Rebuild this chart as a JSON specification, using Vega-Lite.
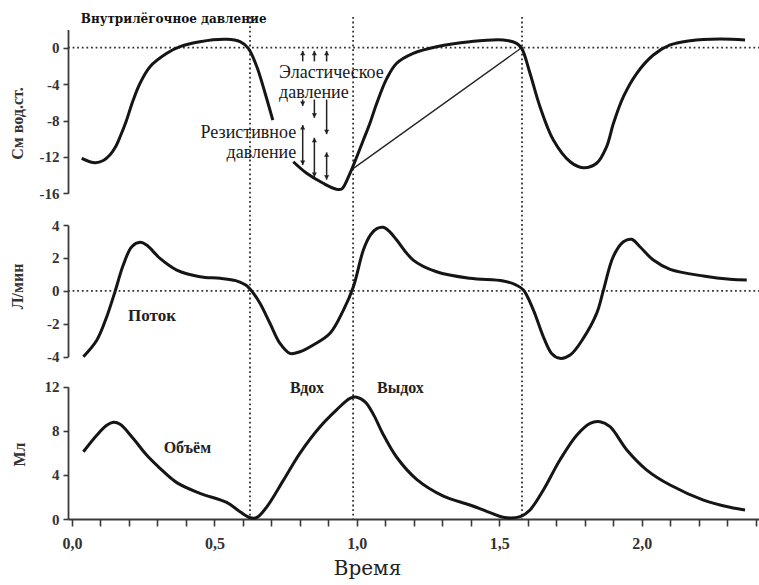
{
  "$schema": "https://vega.github.io/schema/vega-lite/v6.json",
  "width": 691,
  "height": 502,
  "autosize": {"type": "none"},
  "padding": {"left": 68, "top": 17, "right": 0, "bottom": 66},
  "background": "white",
  "config": {
    "view": {"stroke": null},
    "axis": {
      "grid": false,
      "domainColor": "#3a3a3a",
      "domainWidth": 1.8,
      "tickColor": "#3a3a3a",
      "tickWidth": 1.6,
      "tickSize": 5,
      "labelPadding": 4,
      "labelFont": "Liberation Serif",
      "labelFontSize": 15,
      "labelFontWeight": "bold",
      "labelColor": "#333333",
      "titleFont": "Liberation Serif",
      "titleFontSize": 16,
      "titleFontWeight": "bold",
      "titleColor": "#333333"
    }
  },
  "datasets": {
    "pressure": [
      {"seg": "a", "t": 0.034, "v": -12.15},
      {"seg": "a", "t": 0.081, "v": -12.64},
      {"seg": "a", "t": 0.11, "v": -12.4},
      {"seg": "a", "t": 0.133, "v": -11.8},
      {"seg": "a", "t": 0.152, "v": -10.95},
      {"seg": "a", "t": 0.17, "v": -9.7},
      {"seg": "a", "t": 0.19, "v": -8.1},
      {"seg": "a", "t": 0.215, "v": -5.75},
      {"seg": "a", "t": 0.239, "v": -3.91},
      {"seg": "a", "t": 0.274, "v": -2.09},
      {"seg": "a", "t": 0.333, "v": -0.62},
      {"seg": "a", "t": 0.379, "v": 0.11},
      {"seg": "a", "t": 0.449, "v": 0.66},
      {"seg": "a", "t": 0.543, "v": 0.92},
      {"seg": "a", "t": 0.59, "v": 0.66},
      {"seg": "a", "t": 0.619, "v": -0.07},
      {"seg": "a", "t": 0.649, "v": -2.09},
      {"seg": "a", "t": 0.678, "v": -5.0},
      {"seg": "a", "t": 0.705, "v": -7.95},
      {"seg": "b", "t": 0.777, "v": -12.53},
      {"seg": "b", "t": 0.824, "v": -13.8},
      {"seg": "b", "t": 0.882, "v": -14.9},
      {"seg": "b", "t": 0.929, "v": -15.56},
      {"seg": "b", "t": 0.947, "v": -15.53},
      {"seg": "b", "t": 0.976, "v": -13.8},
      {"seg": "b", "t": 1.023, "v": -10.14},
      {"seg": "b", "t": 1.046, "v": -8.3},
      {"seg": "b", "t": 1.07, "v": -6.1},
      {"seg": "b", "t": 1.105, "v": -3.4},
      {"seg": "b", "t": 1.14, "v": -1.71},
      {"seg": "b", "t": 1.198, "v": -0.62},
      {"seg": "b", "t": 1.28, "v": 0.11},
      {"seg": "b", "t": 1.397, "v": 0.66},
      {"seg": "b", "t": 1.514, "v": 0.85},
      {"seg": "b", "t": 1.561, "v": 0.48},
      {"seg": "b", "t": 1.579, "v": -0.07},
      {"seg": "b", "t": 1.608, "v": -2.81},
      {"seg": "b", "t": 1.643, "v": -6.48},
      {"seg": "b", "t": 1.69, "v": -10.14},
      {"seg": "b", "t": 1.749, "v": -12.53},
      {"seg": "b", "t": 1.795, "v": -13.19},
      {"seg": "b", "t": 1.842, "v": -12.7},
      {"seg": "b", "t": 1.877, "v": -10.88},
      {"seg": "b", "t": 1.901, "v": -8.31},
      {"seg": "b", "t": 1.936, "v": -5.38},
      {"seg": "b", "t": 1.983, "v": -2.81},
      {"seg": "b", "t": 2.041, "v": -0.8},
      {"seg": "b", "t": 2.1, "v": 0.3},
      {"seg": "b", "t": 2.17, "v": 0.77},
      {"seg": "b", "t": 2.275, "v": 0.96},
      {"seg": "b", "t": 2.363, "v": 0.85}
    ],
    "elasticLine": [
      {"t": 0.982, "v": -13.4},
      {"t": 1.579, "v": 0}
    ],
    "shafts": [
      {"t": 0.81, "v": -1.5, "v2": -0.35},
      {"t": 0.851, "v": -1.5, "v2": -0.35},
      {"t": 0.894, "v": -1.5, "v2": -0.35},
      {"t": 0.81, "v": -5.7, "v2": -6.4},
      {"t": 0.851, "v": -5.7, "v2": -7.7},
      {"t": 0.894, "v": -5.7, "v2": -9.5},
      {"t": 0.81, "v": -8.5, "v2": -12.9},
      {"t": 0.851, "v": -9.9, "v2": -14.2},
      {"t": 0.894, "v": -11.5, "v2": -14.5}
    ],
    "heads": [
      {"t": 0.81, "v": -0.6, "dir": "up"},
      {"t": 0.851, "v": -0.6, "dir": "up"},
      {"t": 0.894, "v": -0.6, "dir": "up"},
      {"t": 0.81, "v": -6.15, "dir": "down"},
      {"t": 0.851, "v": -7.45, "dir": "down"},
      {"t": 0.894, "v": -9.25, "dir": "down"},
      {"t": 0.81, "v": -8.75, "dir": "up"},
      {"t": 0.81, "v": -12.65, "dir": "down"},
      {"t": 0.851, "v": -10.15, "dir": "up"},
      {"t": 0.851, "v": -13.95, "dir": "down"},
      {"t": 0.894, "v": -11.75, "dir": "up"},
      {"t": 0.894, "v": -14.25, "dir": "down"}
    ],
    "flow": [
      {"t": 0.04, "v": -4.0},
      {"t": 0.087, "v": -3.0},
      {"t": 0.122, "v": -1.57},
      {"t": 0.151, "v": -0.05},
      {"t": 0.18, "v": 1.57},
      {"t": 0.21, "v": 2.68},
      {"t": 0.239, "v": 2.95},
      {"t": 0.262, "v": 2.78},
      {"t": 0.309, "v": 1.97},
      {"t": 0.368, "v": 1.26},
      {"t": 0.449, "v": 0.86},
      {"t": 0.52, "v": 0.76},
      {"t": 0.575, "v": 0.62},
      {"t": 0.61, "v": 0.35},
      {"t": 0.635, "v": -0.1},
      {"t": 0.66, "v": -0.76},
      {"t": 0.695, "v": -1.97},
      {"t": 0.73, "v": -3.19},
      {"t": 0.765, "v": -3.8},
      {"t": 0.8, "v": -3.7},
      {"t": 0.847, "v": -3.29},
      {"t": 0.906, "v": -2.58},
      {"t": 0.953, "v": -1.17},
      {"t": 0.988, "v": 0.25},
      {"t": 1.023, "v": 2.48},
      {"t": 1.048, "v": 3.4},
      {"t": 1.07, "v": 3.78},
      {"t": 1.093, "v": 3.86},
      {"t": 1.115, "v": 3.6},
      {"t": 1.14, "v": 3.09},
      {"t": 1.198, "v": 1.87},
      {"t": 1.28, "v": 1.16},
      {"t": 1.397, "v": 0.76},
      {"t": 1.514, "v": 0.6},
      {"t": 1.56, "v": 0.35},
      {"t": 1.585, "v": 0.05},
      {"t": 1.62, "v": -1.17},
      {"t": 1.655, "v": -2.79},
      {"t": 1.684, "v": -3.8},
      {"t": 1.713, "v": -4.1},
      {"t": 1.749, "v": -3.9},
      {"t": 1.795, "v": -2.89},
      {"t": 1.842, "v": -1.37},
      {"t": 1.866, "v": 0.05},
      {"t": 1.9, "v": 2.07},
      {"t": 1.936, "v": 2.98},
      {"t": 1.965, "v": 3.13},
      {"t": 1.994, "v": 2.68},
      {"t": 2.041, "v": 1.87},
      {"t": 2.1, "v": 1.31},
      {"t": 2.217, "v": 0.9},
      {"t": 2.31, "v": 0.7},
      {"t": 2.369, "v": 0.66}
    ],
    "volume": [
      {"t": 0.04, "v": 6.1},
      {"t": 0.087, "v": 7.6},
      {"t": 0.122, "v": 8.5},
      {"t": 0.145, "v": 8.77},
      {"t": 0.169, "v": 8.6},
      {"t": 0.215, "v": 7.3},
      {"t": 0.262, "v": 5.8},
      {"t": 0.309, "v": 4.6},
      {"t": 0.368, "v": 3.3},
      {"t": 0.449, "v": 2.33},
      {"t": 0.543, "v": 1.5},
      {"t": 0.59, "v": 0.66},
      {"t": 0.625, "v": 0.12},
      {"t": 0.648, "v": 0.12},
      {"t": 0.684, "v": 1.1},
      {"t": 0.742, "v": 3.5},
      {"t": 0.8, "v": 5.96},
      {"t": 0.871, "v": 8.37},
      {"t": 0.929, "v": 9.9},
      {"t": 0.976, "v": 10.94},
      {"t": 1.0, "v": 11.05},
      {"t": 1.03, "v": 10.6},
      {"t": 1.06, "v": 9.4},
      {"t": 1.09, "v": 7.8},
      {"t": 1.14, "v": 5.6},
      {"t": 1.21, "v": 3.6},
      {"t": 1.304, "v": 2.08},
      {"t": 1.397, "v": 1.27},
      {"t": 1.468, "v": 0.57},
      {"t": 1.514, "v": 0.15},
      {"t": 1.573, "v": 0.21},
      {"t": 1.608, "v": 0.82},
      {"t": 1.655, "v": 2.63},
      {"t": 1.713, "v": 5.35},
      {"t": 1.772, "v": 7.6},
      {"t": 1.819, "v": 8.68},
      {"t": 1.854, "v": 8.82},
      {"t": 1.889, "v": 8.37},
      {"t": 1.948, "v": 6.26},
      {"t": 2.018, "v": 4.44},
      {"t": 2.1, "v": 3.08},
      {"t": 2.217, "v": 1.72},
      {"t": 2.31, "v": 1.06},
      {"t": 2.363, "v": 0.82}
    ]
  },
  "encoding": {
    "x": {
      "field": "t",
      "type": "quantitative",
      "scale": {"domain": [-0.014, 2.412], "nice": false, "zero": false},
      "axis": {
        "values": [0, 0.1, 0.2, 0.3, 0.4, 0.5, 0.6, 0.7, 0.8, 0.9, 1.0, 1.1, 1.2, 1.3, 1.4, 1.5, 1.6, 1.7, 1.8, 1.9, 2.0, 2.1, 2.2, 2.3, 2.4],
        "labelExpr": "abs(datum.value * 2 - round(datum.value * 2)) < 0.001 ? replace(format(datum.value, '.1f'), '.', ',') : ''",
        "tickSize": 7,
        "labelPadding": 9,
        "labelFontSize": 16,
        "title": "Время",
        "titleFont": "DejaVu Serif",
        "titleFontWeight": "normal",
        "titleFontSize": 20,
        "titleColor": "#222222",
        "titleX": 299,
        "titleY": 49,
        "titleAlign": "center",
        "titleBaseline": "middle"
      }
    }
  },
  "layer": [
    {
      "data": {"values": [{"t": 0.625}, {"t": 0.987}, {"t": 1.58}]},
      "mark": {"type": "rule", "color": "#333333", "strokeWidth": 1.8, "strokeDash": [1.8, 2.8]}
    },
    {
      "encoding": {
        "y": {
          "field": "v",
          "type": "quantitative",
          "scale": {"domain": [-16, 2], "range": [176.3, 12.5], "nice": false, "zero": false},
          "axis": {
            "orient": "left",
            "values": [-16, -12, -8, -4, 0],
            "labelExpr": "replace(datum.label, '−', '-')",
            "title": "См вод.ст.",
            "titleX": -50.5,
            "titleY": 106,
            "titleAlign": "center",
            "titleBaseline": "middle",
            "titleAngle": -90
          }
        }
      },
      "layer": [
        {
          "data": {"values": [{"t": -0.014, "t2": 2.412, "v": 0}]},
          "mark": {"type": "rule", "color": "#333333", "strokeWidth": 1.8, "strokeDash": [1.8, 2.8]},
          "encoding": {"x2": {"field": "t2"}}
        },
        {
          "data": {"name": "elasticLine"},
          "mark": {"type": "line", "color": "#222222", "strokeWidth": 1.3}
        },
        {
          "data": {"name": "pressure"},
          "mark": {"type": "line", "color": "#151515", "strokeWidth": 3, "interpolate": "catmull-rom"},
          "encoding": {"detail": {"field": "seg"}}
        },
        {
          "data": {"name": "shafts"},
          "mark": {"type": "rule", "color": "#222222", "strokeWidth": 1.5},
          "encoding": {"y2": {"field": "v2"}}
        },
        {
          "data": {"name": "heads"},
          "mark": {"type": "point", "filled": true, "color": "#222222", "size": 26, "opacity": 1},
          "encoding": {
            "shape": {
              "field": "dir",
              "type": "nominal",
              "scale": {"domain": ["up", "down"], "range": ["triangle-up", "triangle-down"]},
              "legend": null
            }
          }
        },
        {
          "data": {"values": [{"t": 0.031, "v": 3.1, "text": "Внутрилёгочное давление"}]},
          "mark": {"type": "text", "align": "left", "baseline": "middle", "font": "DejaVu Serif", "fontSize": 12, "fontWeight": "bold", "color": "#111111"},
          "encoding": {"text": {"field": "text"}}
        },
        {
          "data": {"values": [
            {"t": 0.727, "v": -2.8, "text": "Эластическое"},
            {"t": 0.727, "v": -4.95, "text": "давление"}
          ]},
          "mark": {"type": "text", "align": "left", "baseline": "middle", "font": "Liberation Serif", "fontSize": 18, "color": "#1a1a1a"},
          "encoding": {"text": {"field": "text"}}
        },
        {
          "data": {"values": [
            {"t": 0.787, "v": -9.4, "text": "Резистивное"},
            {"t": 0.787, "v": -11.6, "text": "давление"}
          ]},
          "mark": {"type": "text", "align": "right", "baseline": "middle", "font": "Liberation Serif", "fontSize": 18, "color": "#1a1a1a"},
          "encoding": {"text": {"field": "text"}}
        }
      ]
    },
    {
      "encoding": {
        "y": {
          "field": "v",
          "type": "quantitative",
          "scale": {"domain": [-4, 4], "range": [339.7, 208], "nice": false, "zero": false},
          "axis": {
            "orient": "left",
            "values": [-4, -2, 0, 2, 4],
            "labelExpr": "replace(datum.label, '−', '-')",
            "title": "Л/мин",
            "titleX": -51,
            "titleY": 269,
            "titleAlign": "center",
            "titleBaseline": "middle",
            "titleAngle": -90
          }
        }
      },
      "layer": [
        {
          "data": {"values": [{"t": -0.014, "t2": 2.412, "v": 0}]},
          "mark": {"type": "rule", "color": "#333333", "strokeWidth": 1.8, "strokeDash": [1.8, 2.8]},
          "encoding": {"x2": {"field": "t2"}}
        },
        {
          "data": {"name": "flow"},
          "mark": {"type": "line", "color": "#151515", "strokeWidth": 3, "interpolate": "catmull-rom"}
        },
        {
          "data": {"values": [{"t": 0.281, "v": -1.53, "text": "Поток"}]},
          "mark": {"type": "text", "align": "center", "baseline": "middle", "font": "Liberation Serif", "fontSize": 17, "fontWeight": "bold", "color": "#222222"},
          "encoding": {"text": {"field": "text"}}
        }
      ]
    },
    {
      "encoding": {
        "y": {
          "field": "v",
          "type": "quantitative",
          "scale": {"domain": [0, 12], "range": [502, 369.7], "nice": false, "zero": false},
          "axis": {
            "orient": "left",
            "values": [0, 4, 8, 12],
            "title": "Мл",
            "titleX": -49,
            "titleY": 437,
            "titleAlign": "center",
            "titleBaseline": "middle",
            "titleAngle": -90
          }
        }
      },
      "layer": [
        {
          "data": {"name": "volume"},
          "mark": {"type": "line", "color": "#151515", "strokeWidth": 3, "interpolate": "catmull-rom"}
        },
        {
          "data": {"values": [
            {"t": 0.405, "v": 6.44, "text": "Объём"},
            {"t": 0.825, "v": 11.88, "text": "Вдох"},
            {"t": 1.153, "v": 11.88, "text": "Выдох"}
          ]},
          "mark": {"type": "text", "align": "center", "baseline": "middle", "font": "Liberation Serif", "fontSize": 16, "fontWeight": "bold", "color": "#222222"},
          "encoding": {"text": {"field": "text"}}
        }
      ]
    }
  ],
  "resolve": {"scale": {"y": "independent"}, "axis": {"y": "independent"}}
}
